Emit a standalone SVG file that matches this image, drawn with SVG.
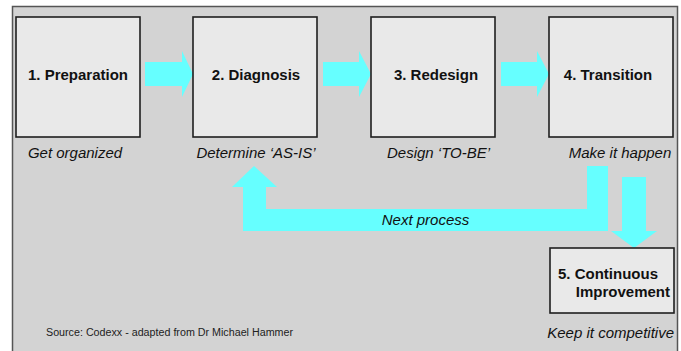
<svg xmlns="http://www.w3.org/2000/svg" width="681" height="351" viewBox="0 0 681 351">
  <defs>
    <style>
      .panel { fill: #d3d3d3; stroke: #555555; stroke-width: 1.5; }
      .box { fill: #e9e9e9; stroke: #1e1e1e; stroke-width: 1.6; }
      .flow { fill: #66ffff; stroke: none; }
      .title { font-family: "Liberation Sans", Arial, sans-serif; font-size: 15px; font-weight: bold; fill: #111111; }
      .note { font-family: "Liberation Sans", Arial, sans-serif; font-size: 15px; font-style: italic; fill: #111111; }
      .small { font-family: "Liberation Sans", Arial, sans-serif; font-size: 10px; fill: #222222; }
    </style>
  </defs>

  <rect x="0" y="0" width="681" height="351" fill="#ffffff"/>
  <!-- grey backdrop panel, runs off the bottom edge -->
  <rect class="panel" x="12.5" y="6.5" width="665" height="360"/>

  <!-- connectors -->
  <g id="connectors">
    <polygon class="flow" points="145,62 182,62 182,51 193,74 182,97 182,86 145,86"/>
    <polygon class="flow" points="323,62 359,62 359,51 371,74 359,97 359,86 323,86"/>
    <polygon class="flow" points="501,62 537,62 537,51 549,74 537,97 537,86 501,86"/>
    <!-- loop back from Transition to Diagnosis -->
    <polygon class="flow" points="587,166 608,166 608,231 243,231 243,187 232,187 254,166 277,187 266,187 266,209 587,209"/>
    <!-- down to Continuous Improvement -->
    <polygon class="flow" points="622,177 646,177 646,231 657,231 634,248 611,231 622,231"/>
    <text class="note" x="425.5" y="225" text-anchor="middle" font-size="14">Next process</text>
  </g>

  <g id="preparation">
    <rect class="box" x="16" y="17" width="124" height="120"/>
    <text class="title" x="78" y="80" text-anchor="middle">1. Preparation</text>
    <text class="note" x="75" y="158" text-anchor="middle">Get organized</text>
  </g>

  <g id="diagnosis">
    <rect class="box" x="193" y="17" width="124" height="120"/>
    <text class="title" x="256" y="80" text-anchor="middle">2. Diagnosis</text>
    <text class="note" x="256" y="158" text-anchor="middle">Determine ‘AS-IS’</text>
  </g>

  <g id="redesign">
    <rect class="box" x="371" y="17" width="124" height="120"/>
    <text class="title" x="436" y="80" text-anchor="middle">3. Redesign</text>
    <text class="note" x="438.5" y="158" text-anchor="middle">Design ‘TO-BE’</text>
  </g>

  <g id="transition">
    <rect class="box" x="549" y="17" width="124" height="120"/>
    <text class="title" x="608" y="80" text-anchor="middle">4. Transition</text>
    <text class="note" x="620" y="158" text-anchor="middle">Make it happen</text>
  </g>

  <g id="improvement">
    <rect class="box" x="550" y="248" width="124" height="65"/>
    <text class="title" x="558" y="279">5. Continuous</text>
    <text class="title" x="670" y="297" text-anchor="end">Improvement</text>
    <text class="note" x="674" y="337.5" text-anchor="end">Keep it competitive</text>
  </g>

  <text class="small" x="46" y="336" textLength="247" lengthAdjust="spacingAndGlyphs">Source: Codexx - adapted from Dr Michael Hammer</text>
</svg>
